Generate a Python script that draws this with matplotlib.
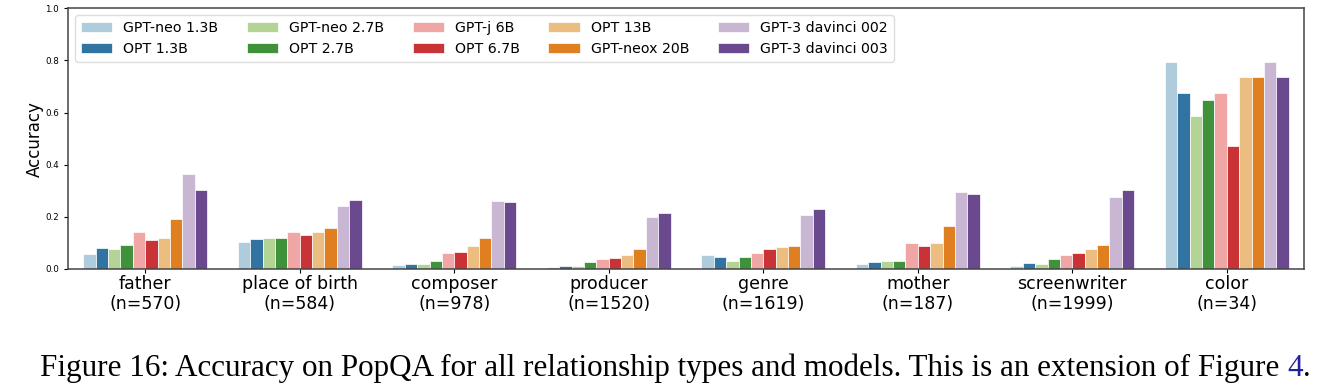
import numpy as np
import pandas as pd
import matplotlib
matplotlib.use('Agg')
import matplotlib.pyplot as plt
import seaborn as sns

relations = ['father', 'place of birth', 'composer', 'producer',
             'genre', 'mother', 'screenwriter', 'color']
counts = [570, 584, 978, 1520, 1619, 187, 1999, 34]
models = ['GPT-neo 1.3B', 'OPT 1.3B', 'GPT-neo 2.7B', 'OPT 2.7B',
          'GPT-j 6B', 'OPT 6.7B', 'OPT 13B', 'GPT-neox 20B',
          'GPT-3 davinci 002', 'GPT-3 davinci 003']

# accuracy per model, one value per relation (same order as `relations`)
acc_gpt_neo_13 = [0.059, 0.105, 0.014, 0.006, 0.053, 0.018, 0.010, 0.794]
acc_opt_13 = [0.081, 0.114, 0.021, 0.013, 0.047, 0.026, 0.022, 0.676]
acc_gpt_neo_27 = [0.076, 0.118, 0.021, 0.010, 0.031, 0.031, 0.019, 0.588]
acc_opt_27 = [0.091, 0.118, 0.031, 0.028, 0.047, 0.031, 0.037, 0.647]
acc_gpt_j_6 = [0.140, 0.142, 0.060, 0.038, 0.063, 0.100, 0.054, 0.676]
acc_opt_67 = [0.113, 0.129, 0.064, 0.041, 0.076, 0.090, 0.060, 0.471]
acc_opt_13b = [0.119, 0.142, 0.090, 0.054, 0.086, 0.100, 0.078, 0.735]
acc_gpt_neox_20 = [0.192, 0.158, 0.118, 0.076, 0.090, 0.164, 0.092, 0.735]
acc_davinci_002 = [0.364, 0.240, 0.262, 0.199, 0.208, 0.294, 0.278, 0.794]
acc_davinci_003 = [0.303, 0.263, 0.258, 0.214, 0.232, 0.288, 0.304, 0.735]

series = [acc_gpt_neo_13, acc_opt_13, acc_gpt_neo_27, acc_opt_27, acc_gpt_j_6,
          acc_opt_67, acc_opt_13b, acc_gpt_neox_20, acc_davinci_002, acc_davinci_003]

labels = [f'{r}\n(n={n})' for r, n in zip(relations, counts)]
rows = []
for model, vals in zip(models, series):
    for lab, v in zip(labels, vals):
        rows.append({'relation': lab, 'model': model, 'accuracy': v})
df = pd.DataFrame(rows)

fig = plt.figure(figsize=(13.3, 3.92), dpi=100)
ax = fig.add_axes([0.0511, 0.3138, 0.9294, 0.665])

sns.barplot(data=df, x='relation', y='accuracy', hue='model', order=labels,
            hue_order=models, palette='Paired', saturation=0.75,
            edgecolor='white', linewidth=0.5, ax=ax, errorbar=None)

ax.set_ylim(0, 1.0)
ax.set_xlim(-0.5, len(labels) - 0.5)
ax.set_xlabel('')
ax.set_ylabel('Accuracy', fontsize=12)
ax.yaxis.set_label_coords(-0.0195, 0.5)
ax.set_yticks(np.arange(0, 1.01, 0.2))
ax.tick_params(axis='y', labelsize=6.3, length=3, width=0.8)
ax.tick_params(axis='x', labelsize=12.5, length=3, width=0.8, pad=1)
for s in ax.spines.values():
    s.set_color('#444444')
    s.set_linewidth(1.1)

ax.legend(ncol=5, loc='upper left', fontsize=10.2, handlelength=2.2,
          columnspacing=2.0, borderaxespad=0.5, framealpha=1,
          edgecolor='#dddddd', labelspacing=0.5)

# caption below the chart
cap_size = 22.4
cap = fig.text(0.03, 0.041, 'Figure 16: Accuracy on PopQA for all relationship types '
               'and models. This is an extension of Figure ',
               family='Liberation Serif', fontsize=cap_size, va='baseline')
num = fig.text(0, 0, '4', family='Liberation Serif', fontsize=cap_size, color='#22229a')
dot = fig.text(0, 0, '.', family='Liberation Serif', fontsize=cap_size)
fig.canvas.draw()
r = fig.canvas.get_renderer()
bb = cap.get_window_extent(r)
num.set_position((bb.x1 / fig.bbox.width, 0.041))
num.set_va('baseline')
bb2 = num.get_window_extent(r)
dot.set_position((bb2.x1 / fig.bbox.width, 0.041))
dot.set_va('baseline')

fig.savefig('out.png', dpi=100)
